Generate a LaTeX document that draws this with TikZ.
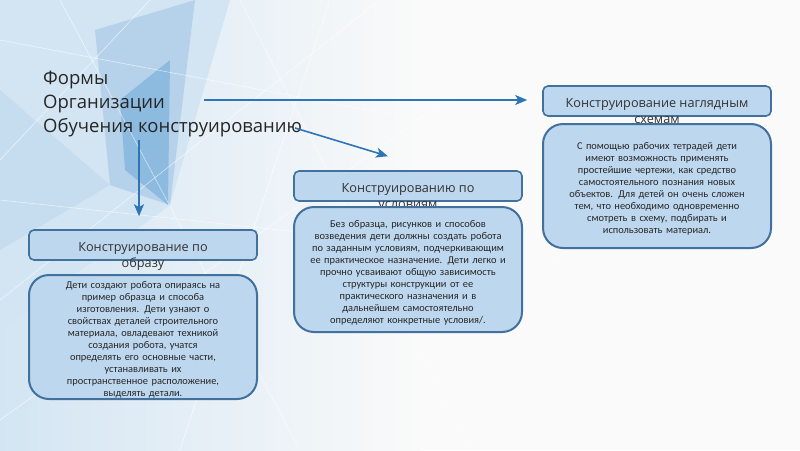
\documentclass[tikz,border=0pt]{standalone}
\usepackage{fontspec}
\setmainfont{Open Sans}
\newfontfamily\bodyfont{Carlito}
\usetikzlibrary{calc, arrows.meta}

\definecolor{boxfill}{HTML}{BDD7EE}
\definecolor{boxline}{HTML}{41719C}
\definecolor{arrowline}{HTML}{2E75B6}
\definecolor{bgl}{HTML}{D3E5F3}
\definecolor{bgm}{HTML}{A9CBE7}
\definecolor{bgd}{HTML}{7DB0DB}

\begin{document}
\begin{tikzpicture}[x = 1pt, y = -1pt,
  head/.style = {draw = boxline, fill = boxfill, line width = 1.6pt,
    rounded corners = 5pt, minimum width = 228pt, minimum height = 30pt},
  headtext/.style = {anchor = base, align = center, inner sep = 0pt,
    text = black!80, font = \fontsize{12.7}{16}\selectfont},
  body/.style = {draw = boxline, fill = boxfill, line width = 2pt,
    rounded corners = 20pt, minimum width = 228pt, text width = 220pt,
    inner ysep = 0pt, align = center, text = black!85,
    execute at begin node = {\rule{0pt}{13pt}},
    font = \bodyfont\fontsize{10.4}{12}\selectfont},
  link/.style = {draw = arrowline, line width = 1.6pt,
    -{Stealth[length = 12pt, width = 10pt, inset = 3pt]}}]

  \useasboundingbox (0, 0) rectangle (800, 450);

  % background
  \fill[gray!4] (0, 0) rectangle (800, 450);
  \shade[left color = bgl, right color = gray!4] (0, 0) rectangle (420, 450);
  \fill[bgl] (0, 0) -- (230, 0) -- (170, 205) -- (40, 300) -- (0, 330) -- cycle;
  \fill[bgm, opacity = .7] (95, 30) -- (195, 0) -- (170, 205) -- (110, 185) -- cycle;
  \fill[bgd, opacity = .7] (120, 100) -- (170, 60) -- (168, 205) -- (125, 170) -- cycle;
  \fill[bgm, opacity = .3] (0, 90) -- (110, 185) -- (0, 250) -- cycle;
  \foreach \a/\b in {{(0,40)}/{(420,120)}, {(60,0)}/{(300,450)}, {(0,300)}/{(380,0)},
    {(150,0)}/{(0,160)}, {(240,0)}/{(470,450)}, {(0,200)}/{(560,260)},
    {(330,0)}/{(180,450)}, {(0,420)}/{(460,90)}}{
    \draw[white, opacity = .7, line width = .5pt] \a -- \b;
  }

  % title
  \node[anchor = north west, align = left, inner sep = 0pt, text = black!85,
    font = \fontsize{18.5}{24}\selectfont] (t) at (43, 71)
    {Формы\\Организации\\Обучения конструированию};

  % headers
  \node[head] (ha) at (143, 245) {};
  \node[head] (hb) at (408, 186) {};
  \node[head] (hc) at (657, 101) {};
  \node[headtext] (ta) at ([yshift = -22pt]ha.center) {Конструирование по\\образу};
  \node[headtext] (tb) at ([yshift = -22pt]hb.center) {Конструированию по\\условиям};
  \node[headtext] (tc) at ([yshift = -22pt]hc.center) {Конструирование наглядным\\схемам};

  % bodies
  \node[body, minimum height = 124pt] (ba) at (143, 337) {Дети создают робота опираясь на\\
    пример образца и способа\\изготовления. Дети узнают о\\свойствах деталей строительного\\
    материала, овладевают техникой\\создания робота, учатся\\
    определять его основные части,\\устанавливать их\\
    пространственное расположение,\\выделять детали.};
  \node[body, minimum height = 125pt] (bb) at (408, 269.5) {Без образца, рисунков и способов\\
    возведения дети должны создать робота\\по заданным условиям, подчеркивающим\\
    ее практическое назначение. Дети легко и\\прочно усваивают общую зависимость\\
    структуры конструкции от ее\\практического назначения и в\\
    дальнейшем самостоятельно\\определяют конкретные условия/.};
  \node[body, minimum height = 124pt] (bc) at (657, 186) {С помощью рабочих тетрадей дети\\
    имеют возможность применять\\простейшие чертежи, как средство\\
    самостоятельного познания новых\\объектов. Для детей он очень сложен\\
    тем, что необходимо одновременно\\смотреть в схему, подбирать и\\
    использовать материал.};

  % arrows
  \coordinate (s1) at (204, 100);
  \coordinate (s2) at (295, 128);
  \coordinate (s3) at (139, 140);
  \coordinate (e2) at ([shift = {(-20pt, 14pt)}]hb.north);
  \draw[link, shorten > = 15pt] (s1) -- (s1 -| hc.west);
  \draw[link] (s2) -- (e2);
  \draw[link, shorten > = 13pt] (s3) -- (s3 |- ha.north);
\end{tikzpicture}
\end{document}
